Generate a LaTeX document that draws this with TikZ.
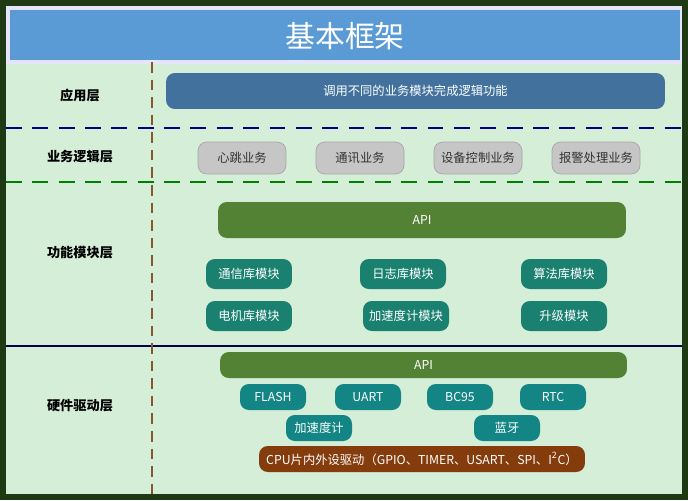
\documentclass[tikz,border=0pt]{standalone}
\usepackage{fontspec}
\setmainfont{Noto Sans CJK SC}
\definecolor{frame}{HTML}{1E3A14}
\definecolor{bg}{HTML}{D5EED8}
\definecolor{titleblue}{HTML}{5B9BD5}
\definecolor{appblue}{HTML}{41719C}
\definecolor{apigreen}{HTML}{548235}
\definecolor{modteal}{HTML}{1A8070}
\definecolor{hwteal}{HTML}{138585}
\definecolor{cpubrown}{HTML}{843C0C}
\begin{document}
\begin{tikzpicture}[x=0.02cm,y=-0.02cm,
 box/.style={rounded corners=5pt,text=white,font=\fontsize{7}{8}\selectfont,inner sep=0pt},
 biz/.style={box,fill=gray!45,draw=gray!70,text=black!80,minimum width=1.76cm,minimum height=0.64cm},
 mod/.style={box,fill=modteal,minimum width=1.72cm,minimum height=0.6cm},
 hw/.style={box,fill=hwteal,minimum width=1.32cm,minimum height=0.52cm},
 lay/.style={font=\fontsize{7.5}{9}\selectfont\bfseries,text=black}]
\fill[frame] (0,0) rectangle (688,500);
\fill[bg] (6,6) rectangle (682,494);
\fill[blue!10] (6,6) rectangle (682,64);
\fill[titleblue] (10,10) rectangle (680,60);
\node[text=white,font=\fontsize{17}{20}\selectfont\addfontfeature{FakeBold=0}] (title) at (345,36) {基本框架};
\draw[line width=1.5pt,dash pattern=on 9pt off 6pt,blue!50!black] (6,128) -- (682,128);
\draw[line width=1.5pt,dash pattern=on 9pt off 6pt,green!50!black] (6,182) -- (682,182);
\draw[line width=1.5pt,blue!30!black] (6,346) -- (682,346);
\draw[line width=1.5pt,dash pattern=on 6pt off 4pt,brown!70!black] (152,62) -- (152,494);
\node[lay] (l1) at (80,95) {应用层};
\node[lay] (l2) at (80,157) {业务逻辑层};
\node[lay] (l3) at (80,253) {功能模块层};
\node[lay] (l4) at (80,406) {硬件驱动层};
\node[box,fill=appblue,minimum width=9.98cm,minimum height=0.72cm] (app) at (415.5,91) {调用不同的业务模块完成逻辑功能};
\node[biz] (b1) at (242,158) {心跳业务};
\node[biz] (b2) at (360,158) {通讯业务};
\node[biz] (b3) at (478,158) {设备控制业务};
\node[biz] (b4) at (596,158) {报警处理业务};
\node[box,fill=apigreen,minimum width=8.16cm,minimum height=0.72cm] (api1) at (422,220) {API};
\node[mod] (m1) at (249,274) {通信库模块};
\node[mod] (m2) at (403,274) {日志库模块};
\node[mod] (m3) at (564,274) {算法库模块};
\node[mod] (m4) at (249,316) {电机库模块};
\node[mod] (m5) at (406,316) {加速度计模块};
\node[mod] (m6) at (564,316) {升级模块};
\node[box,fill=apigreen,minimum width=8.14cm,minimum height=0.52cm] (api2) at (423.5,365) {API};
\node[hw] (h1) at (273,397) {FLASH};
\node[hw] (h2) at (368,397) {UART};
\node[hw] (h3) at (460,397) {BC95};
\node[hw] (h4) at (553,397) {RTC};
\node[hw] (h5) at (319,428) {加速度计};
\node[hw] (h6) at (507,428) {蓝牙};
\node[box,fill=cpubrown,minimum width=6.52cm,minimum height=0.52cm] (cpu) at (422,459) {CPU片内外设驱动（GPIO、TIMER、USART、SPI、I\textsuperscript{2}C）};
\end{tikzpicture}
\end{document}
